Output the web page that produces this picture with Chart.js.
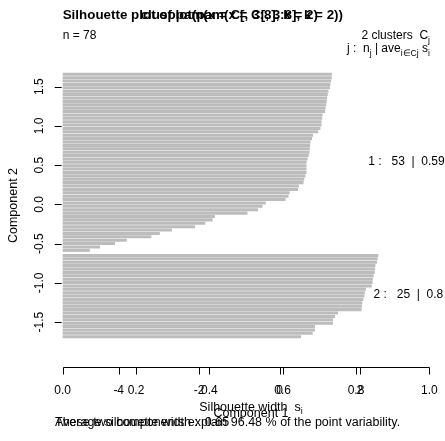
<!DOCTYPE html>
<html><head><meta charset="utf-8">
<script src="https://cdn.jsdelivr.net/npm/chart.js@4.4.1/dist/chart.umd.min.js"></script>
<style>html,body{margin:0;padding:0;background:#fff;overflow:hidden}canvas{display:block}</style>
</head><body>
<canvas id="c" width="445" height="441"></canvas>
<script>
// ---- data ----
const clusterIds = [1, 2];
const silCluster1 = [0.734,0.734,0.732,0.730,0.729,0.725,0.723,0.721,0.720,0.719,
  0.717,0.716,0.709,0.708,0.706,0.706,0.703,0.697,0.683,0.680,
  0.676,0.675,0.674,0.673,0.671,0.668,0.665,0.665,0.665,0.665,
  0.662,0.659,0.657,0.644,0.642,0.619,0.616,0.608,0.554,0.545,
  0.533,0.504,0.415,0.409,0.389,0.361,0.298,0.265,0.242,0.175,
  0.143,0.102,0.074];
const silCluster2 = [0.861,0.859,0.857,0.853,0.852,0.851,0.848,0.846,0.845,0.843,
  0.827,0.824,0.823,0.820,0.817,0.816,0.815,0.751,0.743,0.737,
  0.737,0.688,0.688,0.682,0.650];
const silTicks = [0, 0.2, 0.4, 0.6, 0.8, 1.0];
const comp1Ticks = [-4, -2, 0, 2];
const comp2Ticks = [-1.5, -1.0, -0.5, 0.0, 0.5, 1.0, 1.5];
const variabilityPct = 96.48;
const silTitle = 'Silhouette plot of pam(x = C[, 3:8], k = 2)';
const clusTitle = 'clusplot(pam(x = C[, 3:8], k = 2))';

// ---- build rows (from top), 0.5 bar gap between clusters ----
const groups = [silCluster1, silCluster2];
const points = [];
const centers = [];
let row = 0;
groups.forEach((g, gi) => {
  if (gi > 0) row += 0.5;
  const start = row;
  g.forEach(v => { points.push({x: v, y: row + 0.5}); row += 1; });
  centers.push((start + row) / 2);
});
const totalRows = row;
const ext = totalRows * 0.04;
const mean = a => a.reduce((s, v) => s + v, 0) / a.length;
const r2 = v => String(Math.round(v * 100) / 100);
const allVals = silCluster1.concat(silCluster2);

const F = '"Liberation Sans", Arial, Helvetica, sans-serif';

function rich(ctx, segs, x, yc, align, size, bold) {
  const fnt = s => (bold ? 'bold ' : '') + (s.sub ? size * 0.72 : size) + 'px ' + F;
  let w = 0;
  segs.forEach(s => { ctx.font = fnt(s); w += ctx.measureText(s.t).width; });
  let cx = align === 'right' ? x - w : align === 'center' ? x - w / 2 : x;
  const base = yc + size * 0.36;
  ctx.textAlign = 'left'; ctx.textBaseline = 'alphabetic';
  segs.forEach(s => {
    ctx.font = fnt(s);
    ctx.fillText(s.t, cx, s.sub ? base + size * 0.28 : base);
    cx += ctx.measureText(s.t).width;
  });
  return w;
}

const rPlot = {
  id: 'rplot',
  afterDraw(chart) {
    const ctx = chart.ctx;
    const xs = chart.scales.x, ys = chart.scales.y;
    const xc = chart.scales.xc, yc = chart.scales.yc;
    const ca = chart.chartArea;
    ctx.save();
    ctx.fillStyle = '#000'; ctx.strokeStyle = '#000'; ctx.lineWidth = 1;

    // titles (two overlapping plots)
    ctx.font = 'bold 13.4px ' + F;
    ctx.textBaseline = 'middle';
    ctx.textAlign = 'left';
    ctx.fillText(silTitle, xs.getPixelForValue(0), 15);
    ctx.textAlign = 'right';
    ctx.fillText(clusTitle, 343, 15);

    // bottom axes
    const ya = Math.round(ca.bottom) + 0.5;
    const axisLine = (sc, ticks) => {
      ctx.beginPath();
      ctx.moveTo(Math.round(sc.getPixelForValue(ticks[0])) + 0.5, ya);
      ctx.lineTo(Math.round(sc.getPixelForValue(ticks[ticks.length - 1])) + 0.5, ya);
      ticks.forEach(v => {
        const px = Math.round(sc.getPixelForValue(v)) + 0.5;
        ctx.moveTo(px, ya); ctx.lineTo(px, ya + 7);
      });
      ctx.stroke();
    };
    axisLine(xs, silTicks);
    axisLine(xc, comp1Ticks);
    ctx.font = '12px ' + F; ctx.textAlign = 'center'; ctx.textBaseline = 'middle';
    silTicks.forEach(v => ctx.fillText(v.toFixed(1), xs.getPixelForValue(v), 391));
    comp1Ticks.forEach(v => ctx.fillText(String(v), xc.getPixelForValue(v), 391));

    // left axis (clusplot, ticks only)
    const xa = xs.getPixelForValue(0) - 1;
    ctx.beginPath();
    comp2Ticks.forEach(v => {
      const py = Math.round(yc.getPixelForValue(v)) + 0.5;
      ctx.moveTo(xa - 7, py); ctx.lineTo(xa, py);
    });
    ctx.stroke();
    comp2Ticks.forEach(v => {
      ctx.save();
      ctx.translate(40, yc.getPixelForValue(v));
      ctx.rotate(-Math.PI / 2);
      ctx.fillText(v.toFixed(1), 0, 0);
      ctx.restore();
    });
    ctx.save();
    ctx.font = '12.5px ' + F;
    ctx.translate(14, (ca.top + ca.bottom) / 2);
    ctx.rotate(-Math.PI / 2);
    ctx.fillText('Component 2', 0, 0);
    ctx.restore();

    // header texts
    rich(ctx, [{t: 'n = ' + allVals.length}], xs.getPixelForValue(0), 35, 'left', 12);
    rich(ctx, [{t: groups.length + ' clusters  C'}, {t: 'j', sub: true}], 430, 35, 'right', 12);
    rich(ctx, [{t: 'j :  n'}, {t: 'j', sub: true}, {t: ' | ave'}, {t: 'i\u2208Cj', sub: true}, {t: ' s'}, {t: 'i', sub: true}], 430, 48, 'right', 12);

    // cluster labels
    ctx.font = '12px ' + F;
    groups.forEach((g, gi) => {
      const txt = clusterIds[gi] + ' :   ' + g.length + '  |  ' + r2(mean(g));
      const w = ctx.measureText(txt).width;
      ctx.textAlign = 'left'; ctx.textBaseline = 'middle';
      ctx.fillText(txt, xs.getPixelForValue(1) - 0.8 * w, ys.getPixelForValue(centers[gi]) - 1);
    });

    // axis titles and subtitles
    rich(ctx, [{t: 'Silhouette width  s'}, {t: 'i', sub: true}], 251, 406, 'center', 12.5);
    rich(ctx, [{t: 'Component 1'}], 251, 412, 'center', 12.5);
    rich(ctx, [{t: 'Average silhouette width :  ' + r2(mean(allVals))}], 55, 421, 'left', 12.5);
    rich(ctx, [{t: 'These two components explain ' + variabilityPct + ' % of the point variability.'}], 55, 421, 'left', 12.5);
    ctx.restore();
  }
};

new Chart(document.getElementById('c'), {
  type: 'bar',
  data: {
    datasets: [{
      data: points,
      backgroundColor: '#bcbcbc',
      borderWidth: 0,
      barPercentage: 0.9,
      categoryPercentage: 1,
      xAxisID: 'x',
      yAxisID: 'y'
    }]
  },
  options: {
    indexAxis: 'y',
    responsive: false,
    animation: false,
    devicePixelRatio: 1,
    layout: {padding: {left: 48, right: 1, top: 44, bottom: 74}},
    plugins: {legend: {display: false}, title: {display: false}, tooltip: {enabled: false}},
    scales: {
      x: {type: 'linear', display: false, min: -0.04, max: 1.04},
      y: {type: 'linear', display: false, reverse: true, min: -ext, max: totalRows + ext},
      xc: {type: 'linear', axis: 'x', display: false, min: -5.759, max: 4.092},
      yc: {type: 'linear', axis: 'y', display: false, min: -1.843, max: 1.814}
    }
  },
  plugins: [rPlot]
});
</script>
</body></html>
